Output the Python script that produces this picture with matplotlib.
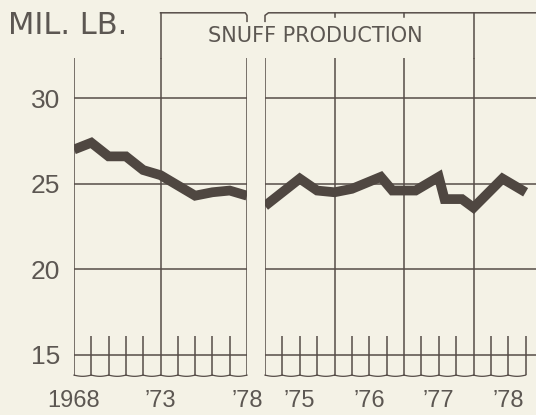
"""Snuff production chart: annual 1968-78 and monthly-ish 1975-78."""

import numpy as np
import matplotlib
matplotlib.use("Agg")
import matplotlib.pyplot as plt

# annual production, million pounds
annual_years = [1968, 1969, 1970, 1971, 1972, 1973, 1974, 1975, 1976, 1977, 1978]
annual_values = [27.0, 27.4, 26.6, 26.6, 25.8, 25.5, 24.9, 24.3, 24.5, 24.6, 24.3]

# short-term series, months after Jan 1975
recent_months = [0, 6, 9, 12, 15, 20, 22, 26, 30, 31, 34, 36, 41, 45]
recent_values = [23.7, 25.3, 24.6, 24.5, 24.7, 25.4, 24.6, 24.6, 25.4, 24.1,
                 24.1, 23.6, 25.3, 24.5]

y_ticks = [15, 20, 25, 30]
left_ticks = [1968, 1973, 1978]
left_labels = ["1968", "’73", "’78"]
right_years = [1975, 1976, 1977, 1978]
right_labels = ["’75", "’76", "’77", "’78"]

PAPER = "#f4f2e6"
INK = "#564d48"
LINE = "#4f4741"
TEXT = "#5c5752"

YLO, YHI = 13.75, 32.35
YBOX = 35.0
TICK_TOP = 16.1


def _wavy_bottom(ax, xs):
    # scalloped break line joining the tick marks
    for a, b in zip(xs[:-1], xs[1:]):
        t = np.linspace(0, 1, 12)
        ax.plot(a + (b - a) * t, 13.8 - 0.07 * np.sin(np.pi * t),
                color=INK, lw=0.9, clip_on=False, zorder=3)


def _frame(ax, x0, x1, grid_x, minor_x):
    ax.set_xlim(x0, x1)
    ax.set_ylim(YLO, YHI)
    ax.set_facecolor("none")
    for s in ax.spines.values():
        s.set_visible(False)
    for y in y_ticks:
        ax.axhline(y, color=INK, lw=1.1, zorder=1)
    for x in grid_x:
        ax.axvline(x, color=INK, lw=1.1, zorder=1)
    ax.vlines(minor_x, YLO + 0.05, TICK_TOP, color=INK, lw=1.1, zorder=1)
    _wavy_bottom(ax, sorted(set(list(minor_x) + list(grid_x))))
    ax.tick_params(length=0, labelsize=17, labelcolor=TEXT, pad=10)


def main():
    plt.rcParams["font.family"] = ["Liberation Sans", "DejaVu Sans"]
    fig = plt.figure(figsize=(5.36, 4.15), dpi=100, facecolor=PAPER)

    bottom, height = 0.094, 0.766
    ax1 = fig.add_axes([74 / 536, bottom, 173 / 536, height])
    ax2 = fig.add_axes([265 / 536, bottom, 271 / 536, height])

    # left panel: annual
    _frame(ax1, 1968, 1978, [1968, 1973, 1978],
           [y for y in annual_years if y not in left_ticks])
    ax1.plot(annual_years, annual_values, color=LINE, lw=7,
             solid_joinstyle="miter", solid_capstyle="butt", zorder=4)
    ax1.set_xticks(left_ticks, left_labels)
    ax1.set_yticks(y_ticks, [str(v) for v in y_ticks])
    ax1.tick_params(axis="y", labelsize=19, pad=10)

    # right panel: 1975-78 by quarter
    x_end = 1975 + 271 / 69.5
    quarters = [y + q / 4 for y in right_years for q in (1, 2, 3)]
    _frame(ax2, 1975, x_end, [1975, 1976, 1977, 1978], quarters)
    rx = [1975 + m / 12 for m in recent_months]
    ax2.plot(rx, recent_values, color=LINE, lw=7,
             solid_joinstyle="miter", solid_capstyle="butt", zorder=4)
    ax2.set_xticks([y + 0.5 for y in right_years], right_labels)
    ax2.set_yticks([])

    # title box across the top
    ax1.plot([1973, 1973], [YHI, YBOX], color=INK, lw=1.1, clip_on=False)
    ax1.plot([1973, 1977.9, 1978, 1978], [YBOX, YBOX, 34.85, 34.5],
             color=INK, lw=1.1, clip_on=False)
    ax2.plot([1975, 1975, 1975.05, x_end], [34.5, 34.85, YBOX, YBOX],
             color=INK, lw=1.1, clip_on=False)
    ax2.plot([1978, 1978], [YHI, YBOX], color=INK, lw=1.1, clip_on=False)
    for x in (1976, 1977):
        ax2.plot([x, x], [YBOX, 34.75], color=INK, lw=1.1, clip_on=False)

    fig.text(315 / 536, 1 - 35.5 / 415, "SNUFF PRODUCTION", ha="center",
             va="center", fontsize=15, color=TEXT, family="DejaVu Sans")
    fig.text(8 / 536, 1 - 25 / 415, "MIL. LB.", ha="left", va="center",
             fontsize=22, color=TEXT, family="DejaVu Sans")

    fig.savefig("out.png", dpi=100, facecolor=PAPER)
    plt.close(fig)


if __name__ == "__main__":
    main()
